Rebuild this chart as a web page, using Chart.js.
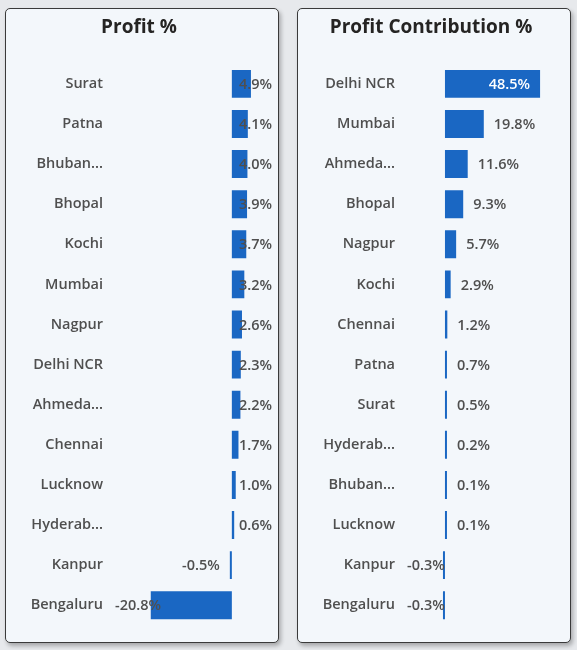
<!DOCTYPE html>
<html>
<head>
<meta charset="utf-8">
<script src="https://cdn.jsdelivr.net/npm/chart.js@4.4.1/dist/chart.umd.min.js"></script>
<style>
  html, body { margin: 0; padding: 0; }
  body { width: 577px; height: 650px; background: #e7e9ec; position: relative; overflow: hidden; }
  .panel {
    position: absolute; top: 8px; width: 274px; height: 635px;
    box-sizing: border-box; border: 1px solid #3a3a3a; border-radius: 5px;
    background: #f3f7fb; box-shadow: 2px 3px 4px rgba(0, 0, 0, 0.28);
  }
  .panel .holder { position: absolute; left: 0; top: 0; width: 272px; height: 633px; }
</style>
</head>
<body>
<div class="panel" style="left:5px"><div class="holder"><canvas id="profitChart"></canvas></div></div>
<div class="panel" style="left:297px"><div class="holder"><canvas id="contribChart"></canvas></div></div>
<script>
  // values
  const profitCities = ['Surat', 'Patna', 'Bhuban...', 'Bhopal', 'Kochi', 'Mumbai', 'Nagpur',
    'Delhi NCR', 'Ahmeda...', 'Chennai', 'Lucknow', 'Hyderab...', 'Kanpur', 'Bengaluru'];
  const profitPct = [4.9, 4.1, 4.0, 3.9, 3.7, 3.2, 2.6, 2.3, 2.2, 1.7, 1.0, 0.6, -0.5, -20.8];

  const contribCities = ['Delhi NCR', 'Mumbai', 'Ahmeda...', 'Bhopal', 'Nagpur', 'Kochi', 'Chennai',
    'Patna', 'Surat', 'Hyderab...', 'Bhuban...', 'Lucknow', 'Kanpur', 'Bengaluru'];
  const contribPct = [48.5, 19.8, 11.6, 9.3, 5.7, 2.9, 1.2, 0.7, 0.5, 0.2, 0.1, 0.1, -0.3, -0.3];

  const FONT = "'Open Sans', 'Noto Sans', sans-serif";
  const BAR_BLUE = '#1a67c3';
  const LABEL_GREY = '#4f4f4f';

  // data labels: outside end, pushed back inside the plot when they would overflow
  const barLabels = {
    id: 'barLabels',
    afterDatasetsDraw(chart) {
      const { ctx, chartArea } = chart;
      const meta = chart.getDatasetMeta(0);
      const values = chart.data.datasets[0].data;
      const gap = 10;
      const lo = chartArea.left + 4;
      const hi = chartArea.right;

      ctx.save();
      ctx.font = `600 14.5px ${FONT}`;
      ctx.textBaseline = 'middle';
      ctx.textAlign = 'left';
      meta.data.forEach((bar, i) => {
        const v = values[i];
        const text = `${v.toFixed(1)}%`;
        const w = ctx.measureText(text).width;
        let tx;
        let color = LABEL_GREY;
        if (v >= 0) {
          tx = bar.x + gap;
          if (tx + w > hi) {
            if (bar.x - bar.base >= w + 2 * gap) {
              tx = bar.x - gap - w;
              color = '#ffffff';
            } else {
              tx = hi - w;
            }
          }
        } else {
          tx = bar.x - gap - w;
          if (tx < lo) tx = lo;
        }
        ctx.fillStyle = color;
        ctx.fillText(text, tx, bar.y + 1);
      });
      ctx.restore();
    }
  };

  function buildChart(canvasId, title, labels, values, xMin, xMax) {
    return new Chart(document.getElementById(canvasId), {
      type: 'bar',
      data: {
        labels: labels,
        datasets: [{
          data: values,
          backgroundColor: BAR_BLUE,
          borderWidth: 0,
          minBarLength: 2,
          barPercentage: 0.85,
          categoryPercentage: 0.82
        }]
      },
      options: {
        indexAxis: 'y',
        responsive: true,
        maintainAspectRatio: false,
        animation: false,
        layout: { padding: { left: 0, right: 6, top: 0, bottom: 14 } },
        plugins: {
          legend: { display: false },
          tooltip: { enabled: false },
          title: {
            display: true,
            text: title,
            color: '#252423',
            font: { family: FONT, size: 19, weight: 'bold' },
            padding: { top: 7, bottom: 25 }
          }
        },
        scales: {
          x: {
            display: false,
            min: xMin,
            max: xMax,
            grid: { display: false }
          },
          y: {
            grid: { display: false, drawTicks: false },
            border: { display: false },
            ticks: {
              color: LABEL_GREY,
              padding: 8,
              font: { family: FONT, size: 14.5, weight: '600' }
            },
            afterFit(scale) {
              scale.width = 105;
            }
          }
        }
      },
      plugins: [barLabels]
    });
  }

  buildChart('profitChart', 'Profit %', profitCities, profitPct, -31, 10.3);
  buildChart('contribChart', 'Profit Contribution %', contribCities, contribPct, -21.4, 60.7);
</script>
</body>
</html>
